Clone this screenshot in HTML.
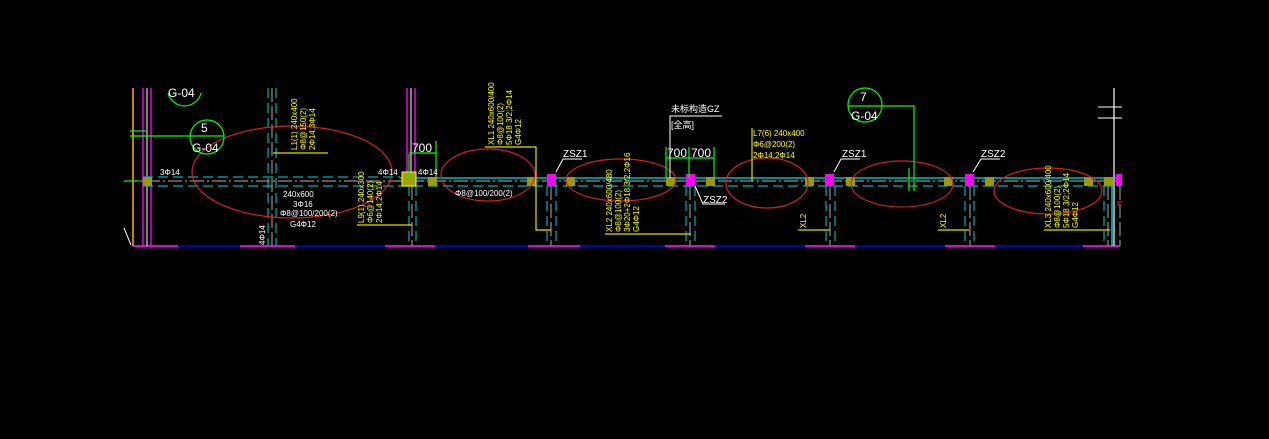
<!DOCTYPE html>
<html><head><meta charset="utf-8"><style>
html,body{margin:0;padding:0;background:#000;width:1269px;height:439px;overflow:hidden}
svg{display:block}
text{font-family:"Liberation Sans","Noto Sans CJK SC",sans-serif}
</style></head><body>
<svg width="1269" height="439" viewBox="0 0 1269 439" xmlns="http://www.w3.org/2000/svg">
<rect width="1269" height="439" fill="#000"/>
<line x1="133" y1="246" x2="1120" y2="246" stroke="#0000c0" stroke-width="2"/>
<g stroke="#e000e0" stroke-width="2">
<line x1="133" y1="246" x2="178" y2="246"/><line x1="240" y1="246" x2="295" y2="246"/>
<line x1="385" y1="246" x2="435" y2="246"/><line x1="528" y1="246" x2="580" y2="246"/>
<line x1="665" y1="246" x2="715" y2="246"/><line x1="805" y1="246" x2="855" y2="246"/>
<line x1="945" y1="246" x2="995" y2="246"/><line x1="1083" y1="246" x2="1120" y2="246"/>
</g>
<line x1="133" y1="88" x2="133" y2="246" stroke="#ffb000" stroke-width="1.5"/>
<line x1="143" y1="88" x2="143" y2="246" stroke="#ff00ff" stroke-width="1.4"/>
<line x1="147" y1="88" x2="147" y2="246" stroke="#fff" stroke-width="1"/>
<line x1="151" y1="88" x2="151" y2="246" stroke="#ff00ff" stroke-width="1.4"/>
<line x1="124" y1="228" x2="131" y2="245" stroke="#fff" stroke-width="1"/>
<g stroke-width="1.2">
<g stroke="#00b0b0" stroke-dasharray="10,5">
<line x1="268" y1="88" x2="268" y2="246"/><line x1="276" y1="88" x2="276" y2="246"/>
<line x1="547" y1="186" x2="547" y2="246"/><line x1="556" y1="186" x2="556" y2="246"/>
<line x1="686" y1="186" x2="686" y2="246"/><line x1="695" y1="186" x2="695" y2="246"/>
<line x1="826" y1="186" x2="826" y2="246"/><line x1="835" y1="186" x2="835" y2="246"/>
<line x1="965" y1="186" x2="965" y2="246"/><line x1="974" y1="186" x2="974" y2="246"/>
<line x1="1104" y1="186" x2="1104" y2="246"/>
<line x1="409" y1="186" x2="409" y2="246"/><line x1="416" y1="186" x2="416" y2="246"/>
</g>
<g stroke="#909090" stroke-dasharray="14,4">
<line x1="272" y1="88" x2="272" y2="246"/><line x1="412" y1="186" x2="412" y2="246"/>
<line x1="551" y1="186" x2="551" y2="246"/><line x1="690" y1="186" x2="690" y2="246"/>
<line x1="830" y1="186" x2="830" y2="246"/><line x1="970" y1="186" x2="970" y2="246"/>
<line x1="1108" y1="186" x2="1108" y2="246"/><line x1="1120" y1="186" x2="1120" y2="246"/>
</g>
</g>
<line x1="407" y1="88" x2="407" y2="172" stroke="#ff00ff" stroke-width="1.4"/>
<line x1="411" y1="88" x2="411" y2="172" stroke="#fff" stroke-width="1"/>
<line x1="415" y1="88" x2="415" y2="172" stroke="#ff00ff" stroke-width="1.4"/>
<line x1="1114" y1="88" x2="1114" y2="246" stroke="#fff" stroke-width="1.2"/>
<line x1="1112" y1="178" x2="1112" y2="246" stroke="#00ffff" stroke-width="1.2"/>
<line x1="1098" y1="107" x2="1122" y2="107" stroke="#fff" stroke-width="1"/>
<line x1="1098" y1="118" x2="1122" y2="118" stroke="#fff" stroke-width="1"/>
<path d="M1118 206 V202 H1122" stroke="#e00" fill="none" stroke-width="1.2"/>
<line x1="400" y1="178" x2="1120" y2="178" stroke="#00e0e0" stroke-width="1.3"/>
<line x1="143" y1="177" x2="400" y2="177" stroke="#00b0b0" stroke-width="1.2" stroke-dasharray="10,5"/>
<line x1="143" y1="186" x2="1120" y2="186" stroke="#00b0b0" stroke-width="1.2" stroke-dasharray="10,5"/>
<line x1="124" y1="181" x2="1120" y2="181" stroke="#909090" stroke-width="1.2" stroke-dasharray="14,3,2,3"/>
<line x1="124" y1="181" x2="147" y2="181" stroke="#00ff00" stroke-width="1"/>
<g fill="#9a9a10">
<rect x="143" y="177" width="9" height="9"/><rect x="428" y="177" width="9" height="9"/>
<rect x="527" y="177" width="9" height="9"/><rect x="566" y="177" width="9" height="9"/>
<rect x="666" y="177" width="9" height="9"/><rect x="706" y="177" width="9" height="9"/>
<rect x="805" y="177" width="9" height="9"/><rect x="846" y="177" width="9" height="9"/>
<rect x="944" y="177" width="9" height="9"/><rect x="985" y="177" width="9" height="9"/>
<rect x="1084" y="177" width="9" height="9"/><rect x="1104" y="177" width="9" height="9"/>
</g>
<rect x="402" y="172" width="14" height="14" fill="#a0a010" stroke="#ffff00" stroke-width="1"/>
<g fill="#ff00ff">
<rect x="547" y="174" width="9" height="12"/><rect x="686" y="174" width="9" height="12"/>
<rect x="825" y="174" width="9" height="12"/><rect x="965" y="174" width="9" height="12"/>
<rect x="1116" y="174" width="6" height="12"/>
</g>
<g fill="none" stroke="#d02020" stroke-width="1.2">
<ellipse cx="292" cy="172" rx="100" ry="46"/>
<ellipse cx="488" cy="175" rx="47" ry="26"/>
<ellipse cx="621" cy="180" rx="55" ry="21"/>
<ellipse cx="767" cy="183" rx="41" ry="25"/>
<ellipse cx="902" cy="184" rx="51" ry="23"/>
<ellipse cx="1048" cy="191" rx="54" ry="23"/>
</g>
<g stroke="#00ff00" fill="none" stroke-width="1.2">
<circle cx="207" cy="137" r="17"/><line x1="130" y1="136" x2="224" y2="136"/>
<line x1="130" y1="131" x2="146" y2="131"/>
<path d="M168 93 A17 17 0 0 0 201 93"/>
<circle cx="865" cy="105" r="17"/><path d="M848 106 H914 V191"/>
<line x1="909" y1="168" x2="909" y2="191"/>
<line x1="409" y1="154" x2="409" y2="178"/><line x1="436" y1="141" x2="436" y2="178"/>
<line x1="409" y1="153" x2="436" y2="153"/>
<line x1="666" y1="147" x2="666" y2="178"/><line x1="689" y1="147" x2="689" y2="178"/><line x1="714" y1="147" x2="714" y2="178"/>
<line x1="666" y1="158" x2="714" y2="158"/>
</g>
<g fill="#fff" font-size="12">
<text x="201" y="132">5</text><text x="192" y="152">G-04</text>
<text x="168" y="97">G-04</text>
<text x="860" y="101">7</text><text x="851" y="120">G-04</text>
<text x="412" y="152" font-size="12">700</text>
<text x="667" y="157" font-size="12">700</text><text x="691" y="157" font-size="12">700</text>
</g>
<g fill="none" stroke="#fff" stroke-width="1">
<path d="M556 172 L563 159 H582"/><path d="M695 186 L703 204 H725"/>
<path d="M834 172 L841 159 H860"/><path d="M973 172 L981 159 H1000"/>
<path d="M670 178 V116 H722"/>
</g>
<g fill="#fff" font-size="10">
<text x="563" y="157">ZSZ1</text><text x="703" y="203">ZSZ2</text>
<text x="842" y="157">ZSZ1</text><text x="981" y="157">ZSZ2</text>
<text x="671" y="112" font-size="9">未标构造GZ</text><text x="671" y="128" font-size="9">[全高]</text>
<text x="160" y="175" font-size="8">3Φ14</text><text x="378" y="175" font-size="8">4Φ14</text>
<text x="418" y="175" font-size="8">4Φ14</text>
<text x="455" y="196" font-size="8">Φ8@100/200(2)</text>
<text x="283" y="197" font-size="8">240x600</text><text x="293" y="207" font-size="8">3Φ16</text>
<text x="280" y="216" font-size="8">Φ8@100/200(2)</text><text x="290" y="227" font-size="8">G4Φ12</text>
<text transform="translate(265,245) rotate(-90)" font-size="8">4Φ14</text>
</g>
<g stroke="#e0e000" stroke-width="1.2" fill="none">
<line x1="273" y1="153" x2="328" y2="153"/>
<line x1="357" y1="225" x2="412" y2="225"/>
<path d="M485 147 H536 V230 H551"/>
<line x1="605" y1="234" x2="691" y2="234"/>
<line x1="752" y1="128" x2="752" y2="181"/>
<line x1="798" y1="230" x2="830" y2="230"/>
<line x1="938" y1="230" x2="969" y2="230"/>
<line x1="1044" y1="230" x2="1110" y2="230"/>
</g>
<g fill="#ffff00" font-size="8">
<text x="753" y="136">L7(6) 240x400</text><text x="753" y="147">Φ6@200(2)</text><text x="753" y="158">2Φ14;2Φ14</text>
<text transform="translate(297,150) rotate(-90)">L1(1) 240x400</text>
<text transform="translate(306,150) rotate(-90)">Φ8@150(2)</text>
<text transform="translate(315,150) rotate(-90)">2Φ14;3Φ14</text>
<text transform="translate(364,223) rotate(-90)">L9(1) 240x300</text>
<text transform="translate(373,223) rotate(-90)">Φ6@140(2)</text>
<text transform="translate(382,223) rotate(-90)">2Φ14;2Φ14</text>
<text transform="translate(494,145) rotate(-90)">XL1 240x600/400</text>
<text transform="translate(503,145) rotate(-90)">Φ8@100(2)</text>
<text transform="translate(512,145) rotate(-90)">5Φ18 3/2;2Φ14</text>
<text transform="translate(521,145) rotate(-90)">G4Φ12</text>
<text transform="translate(612,232) rotate(-90)">XL2 240x600/480</text>
<text transform="translate(621,232) rotate(-90)">Φ8@100(2)</text>
<text transform="translate(630,232) rotate(-90)">3Φ20+2Φ18 3/2;2Φ16</text>
<text transform="translate(639,232) rotate(-90)">G4Φ12</text>
<text transform="translate(806,228) rotate(-90)">XL2</text>
<text transform="translate(946,228) rotate(-90)">XL2</text>
<text transform="translate(1051,228) rotate(-90)">XL3 240x600/400</text>
<text transform="translate(1060,228) rotate(-90)">Φ8@100(2)</text>
<text transform="translate(1069,228) rotate(-90)">5Φ18 3/2;2Φ14</text>
<text transform="translate(1078,228) rotate(-90)">G4Φ12</text>
</g>
</svg>
</body></html>
